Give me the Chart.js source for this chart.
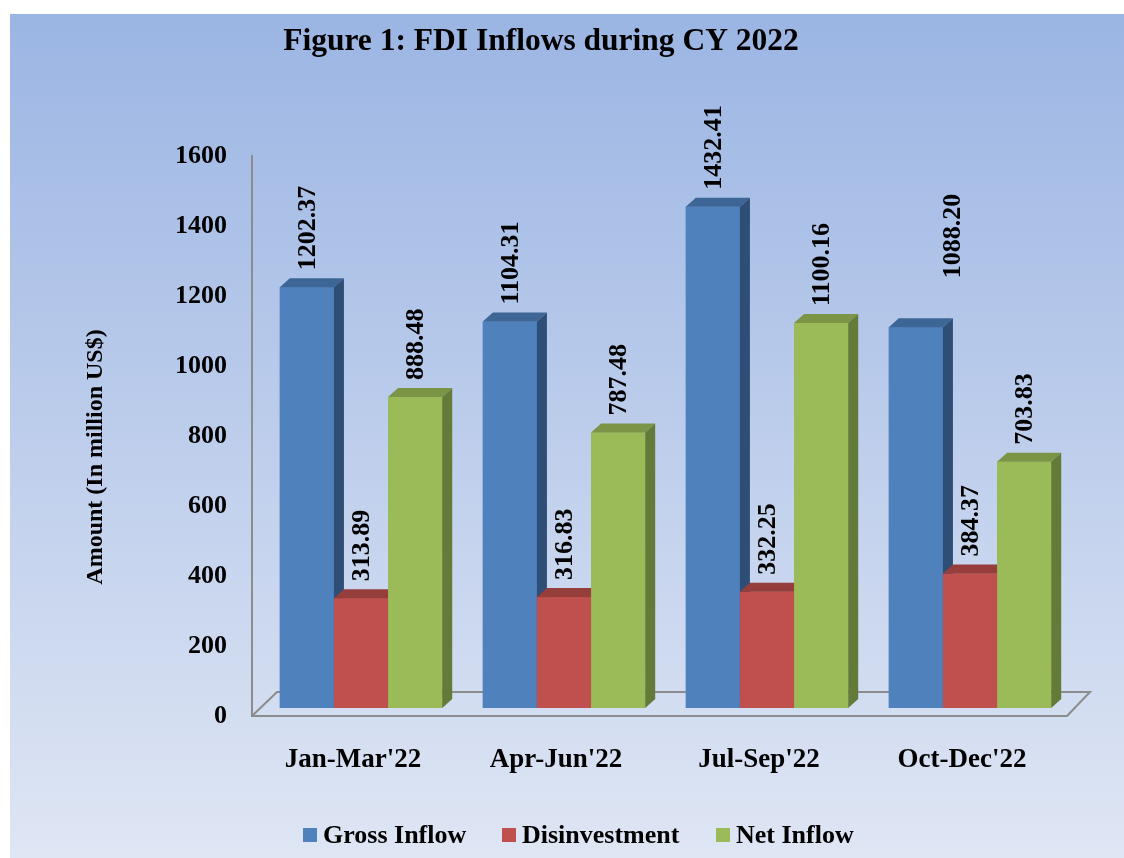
<!DOCTYPE html>
<html>
<head>
<meta charset="utf-8">
<script src="https://cdn.jsdelivr.net/npm/chart.js@4.4.1/dist/chart.umd.min.js"></script>
<style>
  html, body { margin: 0; padding: 0; background: #ffffff; }
  #wrap { width: 1124px; height: 858px; }
</style>
</head>
<body>
<div id="wrap"><canvas id="c" width="1124" height="858"></canvas></div>
<script>
// ---- Data ----
const categories = ["Jan-Mar'22", "Apr-Jun'22", "Jul-Sep'22", "Oct-Dec'22"];
const grossInflow = [1202.37, 1104.31, 1432.41, 1088.20];
const disinvestment = [313.89, 316.83, 332.25, 384.37];
const netInflow = [888.48, 787.48, 1100.16, 703.83];
const seriesNames = ["Gross Inflow", "Disinvestment", "Net Inflow"];
const yTicks = [0, 200, 400, 600, 800, 1000, 1200, 1400, 1600];
const chartTitle = "Figure 1: FDI Inflows during CY 2022";
const yAxisTitle = "Amount (In million US$)";

// ---- Styles ----
const FONT = '"Liberation Serif", "Times New Roman", serif';
const faceColors = [
  { front: '#4f81bd', top: '#3d6596', side: '#2f4e76' },
  { front: '#c0504d', top: '#953e3b', side: '#7d3331' },
  { front: '#9bbb59', top: '#7b9445', side: '#647a38' }
];
const DX = 10, DY = 9;
const LABEL_GAP = 8;
// manually moved label in the original (dataset-index): [shift x, extra lift]
const labelShift = { '0-3': [36, 32] };

const decor = {
  id: 'decor',
  beforeDraw(chart) {
    const ctx = chart.ctx;
    ctx.save();
    ctx.fillStyle = '#ffffff';
    ctx.fillRect(0, 0, chart.width, chart.height);
    const g = ctx.createLinearGradient(0, 14, 0, chart.height);
    g.addColorStop(0, '#9bb5e3');
    g.addColorStop(1, '#dfe6f4');
    ctx.fillStyle = g;
    ctx.fillRect(10, 14, chart.width - 10, chart.height - 14);
    ctx.restore();
  },
  beforeDatasetsDraw(chart) {
    const ctx = chart.ctx;
    const ys = chart.scales.y, xs = chart.scales.x;
    const y0 = ys.getPixelForValue(0) + 8;
    const yTop = ys.getPixelForValue(1600) + 7;
    const left = xs.left - 7.5;
    const right = xs.right - 4.5;
    ctx.save();
    ctx.strokeStyle = '#8c8c8c';
    ctx.lineWidth = 2;
    ctx.beginPath();
    ctx.moveTo(left, yTop);
    ctx.lineTo(left, y0);
    ctx.lineTo(right, y0);
    ctx.lineTo(right + 23, y0 - 24);
    ctx.lineTo(left + 25, y0 - 24);
    ctx.lineTo(left, y0);
    ctx.stroke();
    ctx.restore();
  },
  afterDatasetsDraw(chart) {
    const ctx = chart.ctx;
    ctx.save();
    const n = chart.data.labels.length;
    for (let j = 0; j < n; j++) {
      for (let i = 0; i < chart.data.datasets.length; i++) {
        const el = chart.getDatasetMeta(i).data[j];
        const p = el.getProps(['x', 'y', 'base', 'width'], true);
        const l = p.x - p.width / 2, r = p.x + p.width / 2;
        const c = faceColors[i];
        ctx.fillStyle = c.front;
        ctx.fillRect(l, p.y, p.width, p.base - p.y);
        ctx.fillStyle = c.top;
        ctx.beginPath();
        ctx.moveTo(l, p.y); ctx.lineTo(r, p.y);
        ctx.lineTo(r + DX, p.y - DY); ctx.lineTo(l + DX, p.y - DY);
        ctx.closePath(); ctx.fill();
        ctx.fillStyle = c.side;
        ctx.beginPath();
        ctx.moveTo(r, p.y); ctx.lineTo(r + DX, p.y - DY);
        ctx.lineTo(r + DX, p.base - DY); ctx.lineTo(r, p.base);
        ctx.closePath(); ctx.fill();
      }
    }
    // data labels
    ctx.fillStyle = '#000000';
    ctx.font = 'bold 26px ' + FONT;
    ctx.textAlign = 'left';
    ctx.textBaseline = 'middle';
    chart.data.datasets.forEach((ds, i) => {
      chart.getDatasetMeta(i).data.forEach((el, j) => {
        const p = el.getProps(['x', 'y'], true);
        const s = labelShift[i + '-' + j] || [0, 0];
        ctx.save();
        ctx.translate(p.x + 1 + s[0], p.y - DY - LABEL_GAP - s[1]);
        ctx.rotate(-Math.PI / 2);
        ctx.fillText(ds.data[j].toFixed(2), 0, 0);
        ctx.restore();
      });
    });
    ctx.restore();
  },
  afterDraw(chart) {
    const ctx = chart.ctx;
    ctx.save();
    ctx.fillStyle = '#000000';
    // title
    ctx.font = 'bold 31.5px ' + FONT;
    ctx.textAlign = 'center';
    ctx.textBaseline = 'middle';
    ctx.fillText(chartTitle, 541, 42);
    // y axis title
    ctx.save();
    ctx.font = 'bold 24px ' + FONT;
    ctx.translate(96, 457);
    ctx.rotate(-Math.PI / 2);
    ctx.textAlign = 'center';
    ctx.textBaseline = 'middle';
    ctx.fillText(yAxisTitle, 0, 0);
    ctx.restore();
    // legend
    const legendX = [303, 502, 716];
    const ly = 835;
    ctx.font = 'bold 26px ' + FONT;
    ctx.textAlign = 'left';
    ctx.textBaseline = 'middle';
    seriesNames.forEach((name, i) => {
      ctx.fillStyle = faceColors[i].front;
      ctx.fillRect(legendX[i], ly - 7, 14, 14);
      ctx.fillStyle = '#000000';
      ctx.fillText(name, legendX[i] + 20, ly + 1);
    });
    ctx.restore();
  }
};

const chart = new Chart(document.getElementById('c'), {
  type: 'bar',
  data: {
    labels: categories,
    datasets: [
      { label: seriesNames[0], data: grossInflow, backgroundColor: faceColors[0].front },
      { label: seriesNames[1], data: disinvestment, backgroundColor: faceColors[1].front },
      { label: seriesNames[2], data: netInflow, backgroundColor: faceColors[2].front }
    ]
  },
  options: {
    responsive: false,
    animation: false,
    events: [],
    devicePixelRatio: 1,
    layout: { padding: { top: 148, right: 52.5, bottom: 50, left: 0 } },
    datasets: { bar: { categoryPercentage: 0.8, barPercentage: 1.0, borderWidth: 0 } },
    plugins: {
      legend: { display: false },
      title: { display: false },
      tooltip: { enabled: false }
    },
    scales: {
      x: {
        grid: { display: false, drawTicks: false },
        border: { display: false },
        ticks: {
          color: '#000000',
          font: { family: FONT, size: 27, weight: 'bold' },
          padding: 36,
          labelOffset: -8,
          maxRotation: 0
        },
        afterFit: (s) => { s.height = 100; }
      },
      y: {
        min: 0,
        max: 1600,
        afterBuildTicks: (s) => { s.ticks = yTicks.map(v => ({ value: v })); },
        grid: { display: false, drawTicks: false },
        border: { display: false },
        ticks: {
          color: '#000000',
          font: { family: FONT, size: 26, weight: 'bold' },
          padding: 32.5,
          labelOffset: 8,
          callback: (v) => String(v)
        },
        afterFit: (s) => { s.width = 259.5; }
      }
    }
  },
  plugins: [decor]
});
</script>
</body>
</html>
